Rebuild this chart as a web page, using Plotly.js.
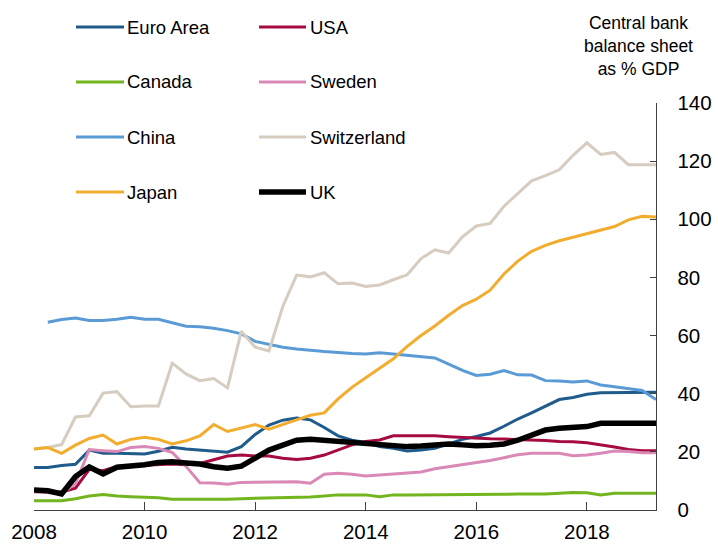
<!DOCTYPE html>
<html>
<head>
<meta charset="utf-8">
<script src="https://cdn.plot.ly/plotly-3.0.1.min.js"></script>
<style>html,body{margin:0;padding:0;background:#fff;}#chart{width:718px;height:547px;}</style>
</head>
<body>
<div id="chart"></div>
<script>
var quarters = [2008,2008.25,2008.5,2008.75,2009,2009.25,2009.5,2009.75,2010,2010.25,2010.5,2010.75,
  2011,2011.25,2011.5,2011.75,2012,2012.25,2012.5,2012.75,2013,2013.25,2013.5,2013.75,
  2014,2014.25,2014.5,2014.75,2015,2015.25,2015.5,2015.75,2016,2016.25,2016.5,2016.75,
  2017,2017.25,2017.5,2017.75,2018,2018.25,2018.5,2018.75,2019,2019.25];

var euroArea = [14.6,14.6,15.3,15.7,20.6,19.5,19.5,19.3,19.3,20.2,21.6,21.0,
  20.6,20.4,19.9,21.8,26.0,29.2,30.9,31.6,31.0,28.4,25.5,24.0,
  23.2,21.8,21.2,20.3,20.6,21.2,22.8,24.3,25.3,26.5,28.8,31.3,
  33.4,35.8,38.0,38.7,39.8,40.3,40.4,40.4,40.4,40.5];
var usa = [6.5,6.4,6.2,7.5,14.0,13.5,15.0,15.2,15.4,15.6,15.8,15.6,
  16.0,17.3,18.6,18.9,18.6,18.6,17.8,17.4,17.8,18.9,20.7,22.4,
  23.6,24.1,25.5,25.5,25.5,25.5,25.2,24.9,24.7,24.5,24.4,24.3,
  24.1,23.9,23.6,23.5,23.1,22.5,21.7,20.8,20.4,20.4];
var canada = [3.2,3.2,3.2,3.9,4.8,5.3,4.8,4.6,4.4,4.2,3.7,3.7,
  3.6,3.6,3.7,3.9,4.0,4.0,4.1,4.4,4.5,4.8,5.2,5.2,
  5.2,4.6,5.2,5.2,5.2,5.2,5.2,5.3,5.4,5.4,5.4,5.5,
  5.5,5.5,5.8,6.0,5.9,5.2,5.8,5.8,5.8,5.8];
var sweden = [6.2,6.0,5.8,9.0,20.8,20.4,20.1,21.5,21.8,21.2,19.8,15.0,
  9.4,9.3,8.9,9.5,9.6,9.7,9.7,9.7,9.2,12.3,12.6,12.3,
  11.7,12.0,12.4,12.6,13.1,14.2,14.9,15.4,16.1,17.0,18.0,19.0,
  19.5,19.5,19.5,18.7,18.9,19.5,20.3,20.1,19.7,19.7];
var china = [null,64.6,65.5,66.0,65.2,65.2,65.6,66.3,65.6,65.6,64.4,63.2,
  63.0,62.5,61.7,60.6,58.0,56.9,56.0,55.4,54.9,54.5,54.2,53.8,
  53.7,54.1,53.7,53.3,52.8,52.3,50.2,48.0,46.3,46.7,48.0,46.5,
  46.4,44.5,44.4,44.0,44.4,43.0,42.4,41.7,41.1,38.0];
var switzerland = [21.0,21.5,22.5,32.0,32.4,40.2,40.7,35.5,35.8,35.8,50.5,46.8,
  44.5,45.2,42.0,61.5,56.0,54.7,70.0,80.8,80.2,81.6,77.8,78.1,
  76.9,77.4,79.2,80.9,86.5,89.5,88.4,94.0,97.7,98.6,104.5,109.0,
  113.2,115.0,117.0,122.0,126.3,122.3,123.0,118.8,118.8,118.8];
var japan = [21.0,21.5,19.5,22.3,24.6,25.8,22.7,24.3,25.0,24.3,22.7,23.8,
  25.5,29.4,27.0,28.2,29.4,27.8,29.3,31.0,32.6,33.4,38.2,42.2,
  45.5,48.6,52.0,56.3,60.0,63.3,67.0,70.3,72.5,75.6,81.2,85.6,
  89.0,91.0,92.6,93.8,95.0,96.4,97.5,99.8,101.0,100.8];
var uk = [6.9,6.6,5.5,11.5,14.8,12.4,14.7,15.0,15.6,16.3,16.6,16.2,
  15.8,14.9,14.4,15.1,17.9,20.6,22.3,24.0,24.3,23.9,23.5,23.3,
  23.0,22.4,22.0,21.8,22.0,22.4,22.7,22.4,22.1,22.3,22.7,24.0,
  25.6,27.5,28.1,28.3,28.7,29.8,29.8,29.8,29.8,29.8];

var xTickVals = [2008,2010,2012,2014,2016,2018];
var xTickText = ['2008','2010','2012','2014','2016','2018'];
var yTickVals = [0,20,40,60,80,100,120,140];
var axisTitle = 'Central bank<br>balance sheet<br>as % GDP';

var seriesNames = ['Euro Area','USA','Canada','Sweden','China','Switzerland','Japan','UK'];
var seriesData = [euroArea,usa,canada,sweden,china,switzerland,japan,uk];
var seriesColors = ['#1F5B8B','#A50B42','#72B51E','#DA89B7','#5B9BD5','#D6CCC0','#F2AD2E','#000000'];
var seriesWidths = [3,3,3,3,3,3,3,5.5];

var traces = seriesNames.map(function(n,i){
  return {x: quarters, y: seriesData[i], type:'scatter', mode:'lines', name:n,
    line:{color:seriesColors[i], width:seriesWidths[i]}, showlegend:false, connectgaps:false};
});

// Manual legend (2 columns x 4 rows)
var L=34, T=103, W=622, H=407;
function px(x){return (x-L)/W;}
function py(y){return (T+H-y)/H;}
var colLineX = [[76,124],[259,306]];
var colTextX = [125,308];
var rowY = [27,82,137,192];
var shapes=[], annotations=[];
seriesNames.forEach(function(n,i){
  var c=i%2, r=Math.floor(i/2);
  shapes.push({type:'line', xref:'paper', yref:'paper', x0:px(colLineX[c][0]), x1:px(colLineX[c][1]),
    y0:py(rowY[r]), y1:py(rowY[r]), line:{color:seriesColors[i], width:seriesWidths[i]}});
  annotations.push({text:n, xref:'paper', yref:'paper', x:px(colTextX[c]), y:py(rowY[r]),
    xanchor:'left', yanchor:'middle', showarrow:false, font:{size:18.5, color:'#000'}});
});
annotations.push({text:axisTitle, xref:'paper', yref:'paper', x:px(638), y:py(11),
  xanchor:'center', yanchor:'top', showarrow:false, align:'center',
  font:{size:17.5, color:'#000'}});

var layout = {
  width:718, height:547,
  margin:{l:L, r:718-L-W, t:T, b:547-T-H, pad:0},
  paper_bgcolor:'#fff', plot_bgcolor:'#fff',
  font:{family:'"Liberation Sans", Arial, sans-serif', color:'#000'},
  showlegend:false,
  xaxis:{range:[2008,2019.25], tickvals:xTickVals, ticktext:xTickText, ticks:'inside', ticklen:8,
    tickcolor:'#404040', showline:true, linecolor:'#404040', linewidth:1.3, showgrid:false, zeroline:false,
    tickfont:{size:20.5}, ticklabelstandoff:3},
  yaxis:{range:[0,140], side:'right', tickvals:yTickVals, ticks:'inside', ticklen:6, tickcolor:'#404040',
    showline:true, linecolor:'#404040', linewidth:1.3, showgrid:false, zeroline:false,
    tickfont:{size:20.5}, ticklabelstandoff:16},
  shapes:shapes, annotations:annotations
};
Plotly.newPlot('chart', traces, layout, {displayModeBar:false, staticPlot:true});
</script>
</body>
</html>
